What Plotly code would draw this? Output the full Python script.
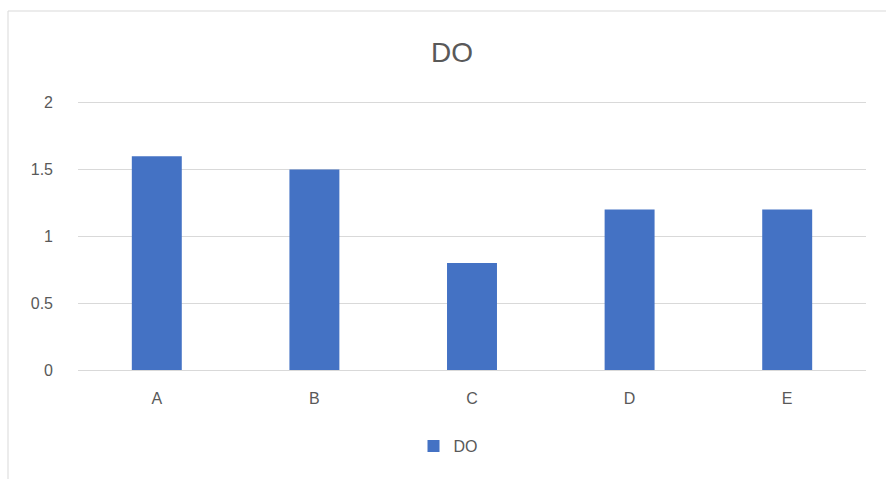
import plotly.graph_objects as go

categories = ["A", "B", "C", "D", "E"]
values = [1.6, 1.5, 0.8, 1.2, 1.2]
series_name = "DO"
y_ticks = [0, 0.5, 1, 1.5, 2]
y_tick_labels = ["0", "0.5", "1", "1.5", "2"]

W, H = 886, 479
L, R, T, B = 78, 20, 100, 109
pw = W - L - R
ph = H - T - B

fig = go.Figure()
fig.add_trace(go.Bar(x=categories, y=values, name=series_name,
                     marker=dict(color="#4472C4", line=dict(width=0)),
                     showlegend=True))

def px_x(x):
    return (x - L) / pw

def px_y(y):
    return (H - B - y) / ph

fig.update_layout(
    width=W, height=H,
    margin=dict(l=L, r=R, t=T, b=B),
    paper_bgcolor="white", plot_bgcolor="white",
    font=dict(family="Liberation Sans, Arial, sans-serif", color="#595959", size=16),
    title=dict(text="DO", xref="container", x=452 / W, xanchor="center",
               yref="container", y=1 - 52 / H, yanchor="middle",
               font=dict(size=28, color="#595959")),
    bargap=0.683,
    showlegend=True,
    legend=dict(orientation="h", x=px_x(448), xanchor="center", y=px_y(446), yanchor="middle",
                font=dict(size=16, color="#595959"), itemwidth=30),
    xaxis=dict(showgrid=False, showline=True, linecolor="#d9d9d9", linewidth=1,
               ticks="", ticklabelstandoff=14, tickfont=dict(size=16)),
    yaxis=dict(range=[0, 2.02], tickvals=y_ticks, ticktext=y_tick_labels,
               showgrid=True, gridcolor="#d9d9d9", gridwidth=1,
               zeroline=False, showline=False, ticks="",
               ticklabelstandoff=24, tickfont=dict(size=16)),
    shapes=[dict(type="rect", xref="paper", yref="paper",
                 x0=px_x(8), x1=px_x(W + 20), y0=px_y(H + 20), y1=px_y(11),
                 line=dict(color="#d9d9d9", width=1), fillcolor="rgba(0,0,0,0)",
                 layer="below")],
)

fig.write_html("out.html")
